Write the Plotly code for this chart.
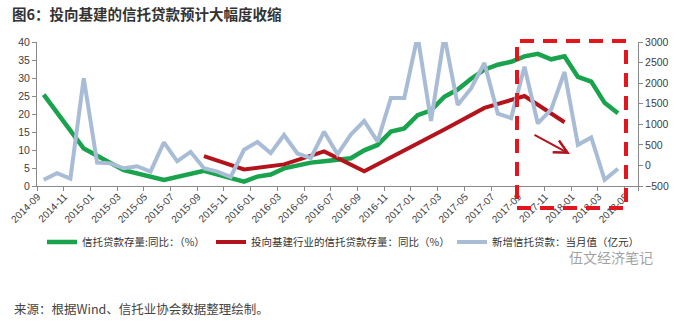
import pandas as pd
import plotly.graph_objects as go

# Monthly categories, 2014-09 .. 2018-05
months = [p.strftime("%Y-%m") for p in pd.period_range("2014-09", "2018-05", freq="M")]
tick_labels = months[::2]

# 信托贷款存量同比（%）— quarterly points early on, monthly from 2015-12
trust_loan_yoy = [
    25.4, None, None, 10.4, None, None, 4.4, None, None, 1.7,
    None, None, 4.2, None, None, 1.2, 2.6, 3.2, 4.9, 5.8,
    6.5, 6.9, 7.2, 7.7, 9.9, 11.4, 15.1, 16.0, 19.7, 21.0,
    24.8, 26.8, 29.8, 32.3, 33.7, 34.5, 36.0, 36.7, 35.2, 36.0,
    30.3, 29.0, 23.1, 20.2, None,
]

# 投向基建行业的信托贷款存量同比（%）— quarterly
infra_trust_yoy = [
    None, None, None, None, None, None, None, None, None, None,
    None, None, 8.3, None, None, 4.6, None, None, 6.0, None,
    None, 9.6, None, None, 4.1, None, None, 9.8, None, None,
    15.7, None, None, 21.7, None, None, 25.0, None, None, 17.7,
    None, None, None, None, None,
]

# 新增信托贷款当月值（亿元）
new_trust_loans = [
    -350, -190, -320, 2120, 70, 50, -70, -20, -150, 560,
    100, 330, -70, -150, -280, 380, 570, 300, 740, 290,
    180, 820, 270, 750, 1080, 580, 1640, 1640, 3150, 1080,
    3150, 1470, 1870, 2490, 1260, 1150, 2400, 1020, 1360, 2270,
    500, 680, -350, -80, None,
]

names = ["信托贷款存量:同比：（%）", "投向基建行业的信托贷款存量：同比（%）", "新增信托贷款：当月值（亿元）"]
colors = ["#18a34c", "#b3141c", "#a9bcd6"]

CJK = "Noto Sans CJK SC"
NUM = "Liberation Sans"

fig = go.Figure()
fig.add_trace(go.Scatter(
    x=months, y=new_trust_loans, name=names[2], yaxis="y2", mode="lines",
    line=dict(color=colors[2], width=4), connectgaps=False, legend="legend3",
))
fig.add_trace(go.Scatter(
    x=months, y=trust_loan_yoy, name=names[0], mode="lines",
    line=dict(color=colors[0], width=4.5), connectgaps=True, legend="legend",
))
fig.add_trace(go.Scatter(
    x=months, y=infra_trust_yoy, name=names[1], mode="lines",
    line=dict(color=colors[1], width=4), connectgaps=True, legend="legend2",
))

axis_col = "#8a8a8a"


def legend_at(px_left):
    return dict(
        orientation="h",
        xref="container", x=px_left / 687, xanchor="left",
        yref="container", y=1 - 242 / 322, yanchor="middle",
        font=dict(family=CJK, size=10.5, color="#333333"),
        bgcolor="rgba(0,0,0,0)",
    )


fig.update_layout(
    width=687, height=322,
    margin=dict(l=37, r=49, t=42, b=136, autoexpand=False),
    paper_bgcolor="white", plot_bgcolor="white",
    font=dict(family=CJK, color="#333333"),
    title=dict(
        text="图6：投向基建的信托贷款预计大幅度收缩",
        x=12 / 687, xanchor="left", xref="container",
        y=1 - 15 / 322, yanchor="middle", yref="container",
        font=dict(family=CJK, size=14.5, color="#333333", weight=700),
    ),
    xaxis=dict(
        type="category", range=[-0.5, len(months) - 0.5],
        tickmode="array", tickvals=tick_labels, ticktext=tick_labels,
        tickson="boundaries", ticklabelshift=-6,
        tickangle=-45, tickfont=dict(family=NUM, size=10, color="#404040"),
        showline=True, linecolor=axis_col, linewidth=1,
        ticks="outside", ticklen=4, tickcolor=axis_col,
        showgrid=False, zeroline=False,
    ),
    yaxis=dict(
        range=[0, 40], tickvals=list(range(0, 45, 5)),
        tickfont=dict(family=NUM, size=10.5, color="#404040"),
        showline=True, linecolor=axis_col, linewidth=1,
        ticks="outside", ticklen=4, tickcolor=axis_col,
        showgrid=False, zeroline=False,
    ),
    yaxis2=dict(
        overlaying="y", side="right",
        range=[-500, 3000], tickvals=list(range(-500, 3500, 500)),
        tickfont=dict(family=NUM, size=10.5, color="#404040"),
        showline=True, linecolor=axis_col, linewidth=1,
        ticks="outside", ticklen=4, tickcolor=axis_col,
        showgrid=False, zeroline=False,
    ),
    showlegend=True,
    legend=legend_at(42),
    legend2=legend_at(211),
    legend3=legend_at(452),
)

# Highlight box around the latest months
fig.add_shape(
    type="rect", xref="paper", yref="paper",
    x0=(517 - 37) / 601, x1=(626 - 37) / 601,
    y0=(186 - 208) / 144, y1=(186 - 41) / 144,
    line=dict(color="#e3161e", width=4, dash="14px,9px"),
    fillcolor="rgba(0,0,0,0)", layer="above",
)

# Downward-trend arrow
fig.add_annotation(
    xref="paper", yref="paper",
    x=(570 - 37) / 601, y=(186 - 154) / 144,
    ax=-37, ay=-20, text="", showarrow=True,
    arrowhead=5, arrowsize=1.3, arrowwidth=2, arrowcolor="#b3141c",
)

# Source note
fig.add_annotation(
    xref="paper", yref="paper",
    x=(12 - 37) / 601, y=(186 - 308) / 144,
    xanchor="left", yanchor="middle", showarrow=False,
    text="来源：根据Wind、信托业协会数据整理绘制。",
    font=dict(family=CJK, size=12.5, color="#444444"),
)

# Account watermark
fig.add_annotation(
    xref="paper", yref="paper",
    x=(567 - 37) / 601, y=(186 - 257) / 144,
    xanchor="left", yanchor="middle", showarrow=False,
    text="伍文经济笔记",
    font=dict(family=CJK, size=14, color="rgba(130,130,130,0.75)"),
)

fig.write_html("out.html")
